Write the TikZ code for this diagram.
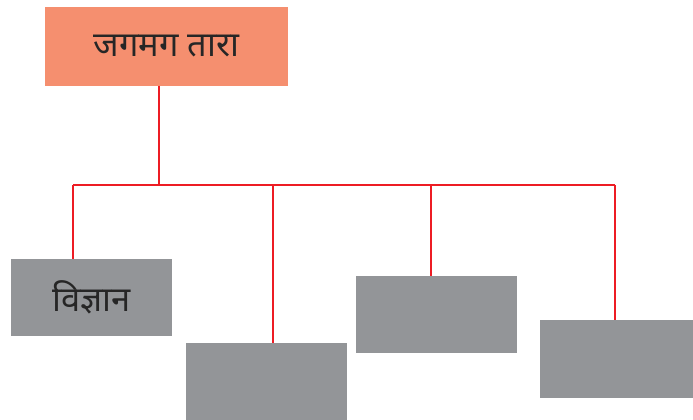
\documentclass[tikz,border=0pt]{standalone}
\usepackage{fontspec}
\newfontfamily\deva[Script=Devanagari]{Noto Sans}
\definecolor{salmon}{HTML}{F58F6F}
\definecolor{boxgray}{HTML}{939598}
\definecolor{linered}{HTML}{ED1C24}
\begin{document}
\begin{tikzpicture}[x=1pt,y=-1pt,
  topbox/.style={fill=salmon,draw=none,inner sep=0pt,outer sep=0pt,minimum width=243pt,minimum height=78pt,font=\deva\fontsize{34.5}{40}\selectfont,text=black!85},
  graybox/.style={fill=boxgray,draw=none,inner sep=0pt,outer sep=0pt,minimum width=161pt,minimum height=77pt,font=\deva\fontsize{34.5}{40}\selectfont,text=black!85},
  conn/.style={draw=linered,line width=2.2pt}]
\useasboundingbox (0,0) rectangle (693,420);
\node[topbox] (top) at (166.5,46.5) {जगमग तारा};
\node[graybox] (b1) at (91.5,297) {विज्ञान};
\node[graybox] (b2) at (266.5,381.5) {};
\node[graybox] (b3) at (436.5,314.5) {};
\node[graybox,minimum width=153pt,minimum height=78pt] (b4) at (616.5,359) {};
\coordinate (j0) at (159,185);
\coordinate (j1) at (73,185);
\coordinate (j2) at (273,185);
\coordinate (j3) at (431,185);
\coordinate (j4) at (615,185);
\draw[conn] (top.south -| j0) -- (j0);
\draw[conn] (j1) -- (j4);
\draw[conn] (j1) -- (j1 |- b1.north);
\draw[conn] (j2) -- (j2 |- b2.north);
\draw[conn] (j3) -- (j3 |- b3.north);
\draw[conn] (j4) -- (j4 |- b4.north);
\end{tikzpicture}
\end{document}
